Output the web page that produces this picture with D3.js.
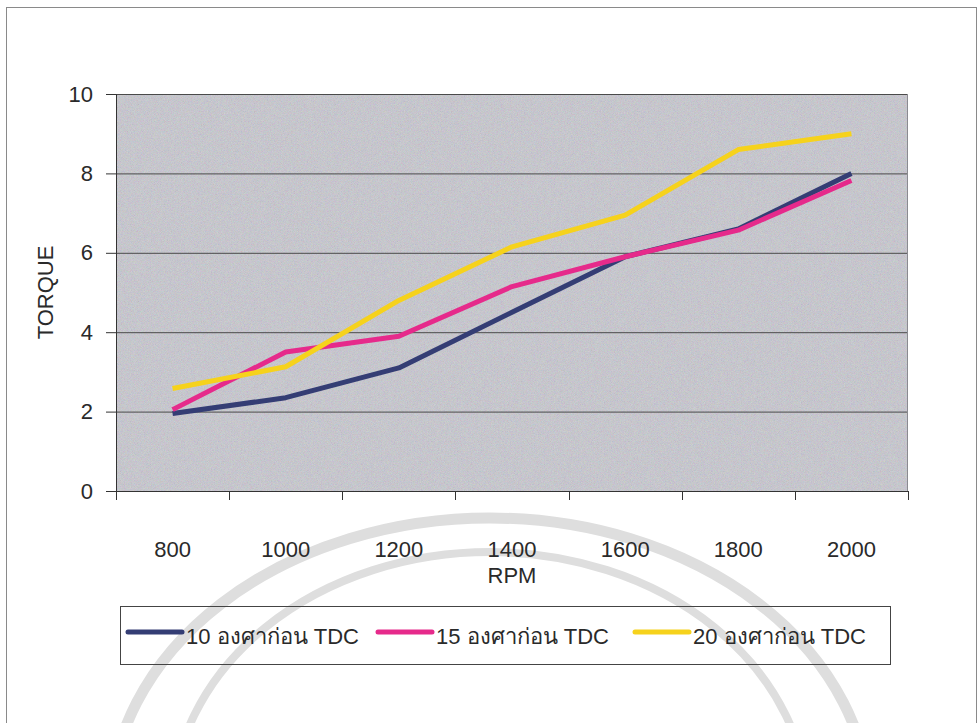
<!DOCTYPE html>
<html>
<head>
<meta charset="utf-8">
<script src="https://cdn.jsdelivr.net/npm/d3@7"></script>
<style>
  html, body { margin: 0; padding: 0; background: #ffffff; }
  svg { display: block; }
  text { font-family: "Liberation Sans", Arial, "Noto Sans", sans-serif; fill: #2a2a2a; }
</style>
</head>
<body>
<svg id="chart" width="979" height="723"></svg>
<script>
// Engine torque against speed for three ignition advance settings
const rpmLabels = ["800", "1000", "1200", "1400", "1600", "1800", "2000"];
const seriesNames = ["10 องศาก่อน TDC", "15 องศาก่อน TDC", "20 องศาก่อน TDC"];
const torque10 = [1.95, 2.35, 3.1, 4.5, 5.9, 6.6, 8.0];
const torque15 = [2.05, 3.5, 3.9, 5.15, 5.9, 6.57, 7.82];
const torque20 = [2.58, 3.13, 4.8, 6.15, 6.95, 8.6, 9.0];
const yTicks = [0, 2, 4, 6, 8, 10];
const seriesColors = ["#343d74", "#e62a8b", "#f6d21c"];

const series = [torque10, torque15, torque20].map((vals, i) => ({
  name: seriesNames[i], color: seriesColors[i], values: vals
}));

const svg = d3.select("#chart");
const plot = { left: 116, right: 908, top: 94, bottom: 491 };
const fontSize = "22px";

// page frame
svg.append("rect")
  .attr("x", 6.5).attr("y", 7.5).attr("width", 970).attr("height", 730)
  .attr("fill", "none").attr("stroke", "#8a8a8a").attr("stroke-width", 1);

// faint emblem behind the lower part of the page
const mark = svg.append("g").attr("fill", "none").attr("stroke", "#dedede");
mark.append("ellipse").attr("cx", 490).attr("cy", 810).attr("rx", 380).attr("ry", 292).attr("stroke-width", 11);
mark.append("ellipse").attr("cx", 490).attr("cy", 810).attr("rx", 318).attr("ry", 258).attr("stroke-width", 8);

const x = d3.scaleBand().domain(rpmLabels).range([plot.left, plot.right]);
const y = d3.scaleLinear().domain([0, 10]).range([plot.bottom, plot.top]);

// grainy grey plot area
const defs = svg.append("defs");
const grain = defs.append("filter").attr("id", "grain")
  .attr("x", 0).attr("y", 0).attr("width", "100%").attr("height", "100%");
grain.append("feTurbulence").attr("type", "fractalNoise").attr("baseFrequency", 1.3)
  .attr("numOctaves", 1).attr("seed", 7).attr("result", "noise");
grain.append("feColorMatrix").attr("type", "matrix")
  .attr("values", "1.2 0 0 0 0  0 1.2 0 0 0  0 0 1.2 0 0.05  0 0 0 0 0.6");

svg.append("rect")
  .attr("x", plot.left).attr("y", plot.top)
  .attr("width", plot.right - plot.left).attr("height", plot.bottom - plot.top)
  .attr("fill", "#c4c4ca");
svg.append("rect")
  .attr("x", plot.left).attr("y", plot.top)
  .attr("width", plot.right - plot.left).attr("height", plot.bottom - plot.top)
  .attr("filter", "url(#grain)").attr("opacity", 0.4);

// horizontal gridlines
svg.append("g").selectAll("line").data(yTicks.filter(d => d > 0)).join("line")
  .attr("x1", plot.left).attr("x2", plot.right)
  .attr("y1", d => y(d) + 0.5).attr("y2", d => y(d) + 0.5)
  .attr("stroke", "#4a4a4a").attr("stroke-width", 1);
svg.append("line")
  .attr("x1", plot.right - 0.5).attr("x2", plot.right - 0.5)
  .attr("y1", plot.top).attr("y2", plot.bottom)
  .attr("stroke", "#8a8a90").attr("stroke-width", 1);

// y axis
const yAxis = svg.append("g").attr("transform", `translate(${plot.left},0)`)
  .call(d3.axisLeft(y).tickValues(yTicks).tickSize(10).tickPadding(13).tickFormat(d3.format("d")));
yAxis.select(".domain").attr("stroke", "#333");
yAxis.selectAll(".tick line").attr("stroke", "#333");
yAxis.selectAll(".tick text").style("font-size", fontSize).attr("fill", "#2a2a2a");

// x axis: labels centred in each category, ticks on category boundaries
const xAxis = svg.append("g").attr("transform", `translate(0,${plot.bottom})`)
  .call(d3.axisBottom(x).tickSize(0).tickPadding(50));
xAxis.select(".domain").remove();
xAxis.selectAll(".tick text").style("font-size", fontSize).attr("fill", "#2a2a2a");
svg.append("line")
  .attr("x1", plot.left - 10).attr("x2", plot.right)
  .attr("y1", plot.bottom + 0.5).attr("y2", plot.bottom + 0.5)
  .attr("stroke", "#333");
const bounds = rpmLabels.map(d => x(d)).concat([x(rpmLabels[rpmLabels.length - 1]) + x.bandwidth()]);
svg.append("g").selectAll("line").data(bounds).join("line")
  .attr("x1", d => Math.round(d) + 0.5).attr("x2", d => Math.round(d) + 0.5)
  .attr("y1", plot.bottom).attr("y2", plot.bottom + 9)
  .attr("stroke", "#333");

// axis titles
svg.append("text")
  .attr("x", (plot.left + plot.right) / 2).attr("y", 583)
  .attr("text-anchor", "middle").style("font-size", fontSize).text("RPM");
svg.append("text")
  .attr("transform", `translate(53,${(plot.top + plot.bottom) / 2}) rotate(-90)`)
  .attr("text-anchor", "middle").style("font-size", fontSize).text("TORQUE");

// series lines
const line = d3.line()
  .x((d, i) => x(rpmLabels[i]) + x.bandwidth() / 2)
  .y(d => y(d));
svg.append("g").selectAll("path").data(series).join("path")
  .attr("d", s => line(s.values))
  .attr("fill", "none")
  .attr("stroke", s => s.color)
  .attr("stroke-width", 5)
  .attr("stroke-linejoin", "round");

// legend
const legend = svg.append("g");
legend.append("rect")
  .attr("x", 120.5).attr("y", 606.5).attr("width", 770).attr("height", 58)
  .attr("fill", "none").attr("stroke", "#444").attr("stroke-width", 1);
const legendX = [128, 378, 635];
series.forEach((s, i) => {
  const g = legend.append("g").attr("transform", `translate(${legendX[i]},0)`);
  g.append("line").attr("x1", 0).attr("x2", 54).attr("y1", 632).attr("y2", 632)
    .attr("stroke", s.color).attr("stroke-width", 5).attr("stroke-linecap", "round");
  g.append("text").attr("x", 58).attr("y", 644).style("font-size", fontSize).text(s.name);
});
</script>
</body>
</html>
